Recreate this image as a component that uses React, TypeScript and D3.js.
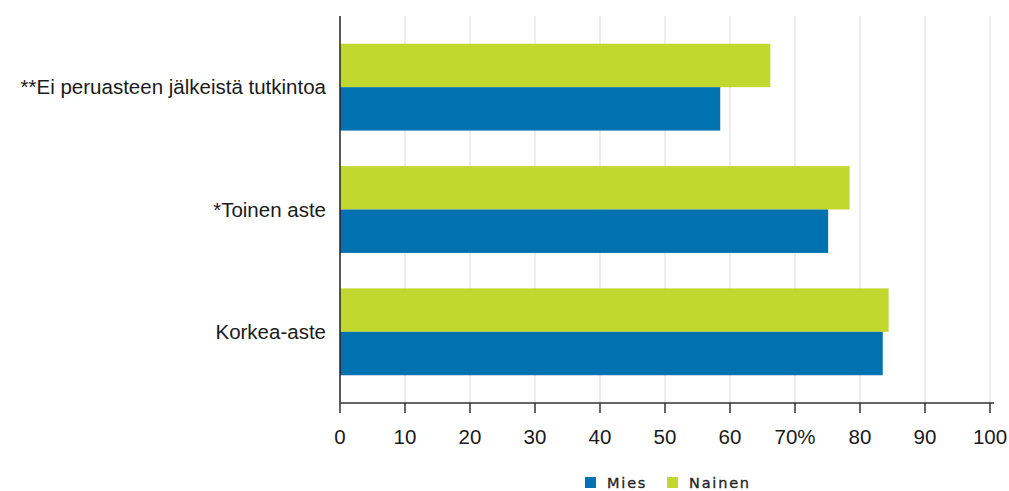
import React from 'react'
import * as d3 from 'd3'

const categories = ['**Ei peruasteen jälkeistä tutkintoa', '*Toinen aste', 'Korkea-aste']
const seriesNames = ['Nainen', 'Mies']
const nainen = [66.2, 78.4, 84.4]
const mies = [58.5, 75.1, 83.5]
const tickValues = [0, 10, 20, 30, 40, 50, 60, 70, 80, 90, 100]
const tickLabels = ['0', '10', '20', '30', '40', '50', '60', '70%', '80', '90', '100']
const legendItems = ['Mies', 'Nainen']

const colors: Record<string, string> = { Mies: '#0072b0', Nainen: '#c1d82f' }

export default function App() {
  const width = 1009
  const height = 491
  const left = 340
  const top = 16
  const bottom = 403

  const x = d3.scaleLinear().domain([0, 100]).range([left, 990])
  const y = d3.scaleBand().domain(categories).range([26, 393]).paddingInner(0.29).paddingOuter(0.145)
  const inner = d3.scaleBand().domain(seriesNames).range([0, y.bandwidth()])
  const values: Record<string, number[]> = { Nainen: nainen, Mies: mies }
  const font = '"Liberation Sans", Arial, sans-serif'

  return <svg width={width} height={height} style={{ position: 'absolute', left: 0, top: 0, background: 'white' }}>
    {tickValues.filter(v => v > 0).map(v =>
      <line key={'g' + v} x1={x(v)} x2={x(v)} y1={top} y2={bottom} stroke="#e6e6e6" strokeWidth={1.5} />
    )}
    {categories.map((c, i) => <g key={c}>
      {seriesNames.map(s =>
        <rect key={s} x={x(0)} y={(y(c) as number) + (inner(s) as number)}
              width={x(values[s][i]) - x(0)} height={inner.bandwidth()} fill={colors[s]} />
      )}
      <text x={326} y={(y(c) as number) + y.bandwidth() / 2} dy="0.35em" textAnchor="end"
            fontFamily={font} fontSize={20.5} fill="#1a1a1a">{c}</text>
    </g>)}
    <line x1={left} x2={left} y1={top} y2={bottom} stroke="#222" strokeWidth={1.5} />
    <line x1={left} x2={994} y1={bottom} y2={bottom} stroke="#333" strokeWidth={1.5} />
    {tickValues.map((v, i) => <g key={'t' + v}>
      <line x1={x(v)} x2={x(v)} y1={bottom} y2={413} stroke="#333" strokeWidth={1.5} />
      <text x={x(v)} y={437} dy="0.35em" textAnchor="middle" fontFamily={font} fontSize={20.5} fill="#1a1a1a">
        {tickLabels[i]}
      </text>
    </g>)}
    {legendItems.map((s, i) => {
      const lx = i === 0 ? 585 : 667
      return <g key={s}>
        <rect x={lx} y={477} width={11} height={11} fill={colors[s]} />
        <text x={lx + 22} y={483} dy="0.35em" fontFamily='"DejaVu Sans", Verdana, sans-serif' fontSize={14.5}
              letterSpacing={1.8} stroke="#222" strokeWidth={0.3} fill="#222">{s}</text>
      </g>
    })}
  </svg>
}
